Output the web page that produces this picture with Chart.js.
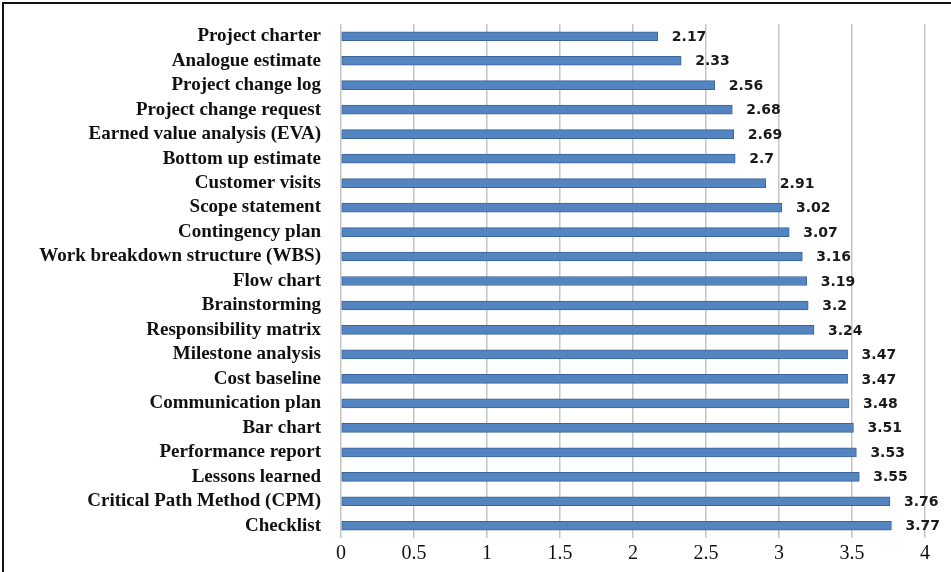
<!DOCTYPE html>
<html>
<head>
<meta charset="utf-8">
<script src="https://cdn.jsdelivr.net/npm/chart.js@4"></script>
<style>
  body { margin: 0; background: #fff; }
  canvas { display: block; }
</style>
</head>
<body>
<canvas id="chart" width="951" height="572"></canvas>
<script>
// Tools, top to bottom as in the figure
const tools = [
  'Project charter', 'Analogue estimate', 'Project change log', 'Project change request',
  'Earned value analysis (EVA)', 'Bottom up estimate', 'Customer visits', 'Scope statement',
  'Contingency plan', 'Work breakdown structure (WBS)', 'Flow chart', 'Brainstorming',
  'Responsibility matrix', 'Milestone analysis', 'Cost baseline', 'Communication plan',
  'Bar chart', 'Performance report', 'Lessons learned', 'Critical Path Method (CPM)', 'Checklist'
];
const meanScores = [
  2.17, 2.33, 2.56, 2.68, 2.69, 2.7, 2.91, 3.02, 3.07, 3.16, 3.19,
  3.2, 3.24, 3.47, 3.47, 3.48, 3.51, 3.53, 3.55, 3.76, 3.77
];
const xMin = 0;
const xMax = 4;
const xStep = 0.5;

const serif = '"Liberation Serif", "Times New Roman", serif';

// value labels at the end of each bar
const barLabels = {
  id: 'barLabels',
  afterDatasetsDraw(chart) {
    const ctx = chart.ctx;
    const meta = chart.getDatasetMeta(0);
    ctx.save();
    ctx.font = 'bold 14px "DejaVu Sans", Verdana, sans-serif';
    ctx.fillStyle = '#1a1a1a';
    ctx.textBaseline = 'middle';
    ctx.textAlign = 'left';
    meta.data.forEach((bar, i) => {
      ctx.fillText(String(meanScores[i]), bar.x + 14, bar.y + 1);
    });
    ctx.restore();
  }
};

// frame round the picture (only left and top show)
const frame = {
  id: 'frame',
  beforeDraw(chart) {
    const ctx = chart.ctx;
    ctx.save();
    ctx.strokeStyle = '#111';
    ctx.lineWidth = 2;
    ctx.beginPath();
    ctx.moveTo(3, chart.height);
    ctx.lineTo(3, 3);
    ctx.lineTo(chart.width, 3);
    ctx.stroke();
    ctx.restore();
  }
};

new Chart(document.getElementById('chart'), {
  type: 'bar',
  data: {
    labels: tools,
    datasets: [{
      data: meanScores,
      backgroundColor: '#5585c0',
      borderColor: '#3a6598',
      borderWidth: 1,
      borderSkipped: false,
      barThickness: 9
    }]
  },
  options: {
    indexAxis: 'y',
    responsive: false,
    animation: false,
    devicePixelRatio: 1,
    layout: { padding: { top: 24, right: 26, left: 0, bottom: 0 } },
    scales: {
      x: {
        min: xMin,
        max: xMax,
        ticks: {
          stepSize: xStep,
          color: '#111',
          font: { family: serif, size: 20 },
          padding: 4,
          callback: v => String(v)
        },
        grid: { color: '#c4c4c4', lineWidth: 1.5, drawTicks: false },
        border: { display: false },
        afterFit(scale) { scale.height = 34; }
      },
      y: {
        ticks: {
          color: '#111',
          font: { family: serif, size: 19, weight: 'bold' },
          padding: 20,
          autoSkip: false
        },
        grid: { display: false, drawTicks: false },
        border: { display: false },
        afterFit(scale) {
          scale.width = 341;
          scale.paddingTop = 0;
          scale.paddingBottom = 0;
        }
      }
    },
    plugins: {
      legend: { display: false },
      tooltip: { enabled: false }
    }
  },
  plugins: [barLabels, frame]
});
</script>
</body>
</html>
